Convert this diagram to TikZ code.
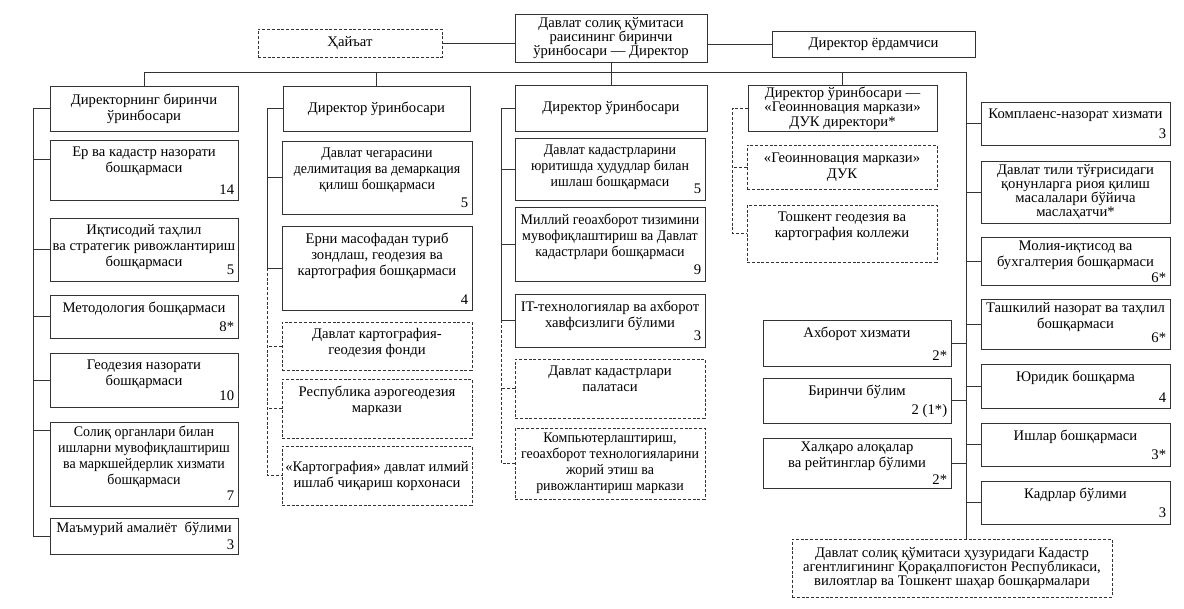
\documentclass[tikz,border=0pt]{standalone}
\usepackage{fontspec}
\setmainfont{Liberation Serif}
\newfontfamily\narrowfont[FakeStretch=0.95]{Liberation Serif}

\begin{document}
\begin{tikzpicture}[x=0.75pt, y=-0.75pt,
  font=\fontsize{11}{12}\selectfont,
  unit/.style 2 args={draw=black!80, line width=0.6pt, minimum width=#1*0.75pt,
                      minimum height=#2*0.75pt, inner sep=0.5pt, align=center},
  dunit/.style 2 args={unit={#1}{#2}, dash pattern=on 2.2pt off 1.4pt},
  tight/.style={font=\fontsize{11}{10.5}\selectfont},
  narrow/.style={font=\fontsize{11}{12}\narrowfont},
  ttl/.style={anchor=north, align=center, inner xsep=2.5pt, inner ysep=5pt},
  num/.style={anchor=south east, inner xsep=3pt, inner ysep=4.5pt},
  link/.style={draw=black!80, line width=0.6pt},
  dlink/.style={link, dash pattern=on 2.2pt off 1.4pt},
]
  \useasboundingbox (0,0) rectangle (1184,609);

  % top level
  \node[dunit={184}{28}] (haiat) at (350,43) {Ҳайъат};
  \node[unit={192}{48}, tight] (top) at (611,38) {Давлат солиқ қўмитаси\\раисининг биринчи\\ўринбосари — Директор};
  \node[unit={203}{26}] (yordam) at (873.5,44) {Директор ёрдамчиси};

  % deputies
  \node[unit={188}{45}] (d1) at (144,108.5) {Директорнинг биринчи\\ўринбосари};
  \node[unit={187}{45}] (d2) at (376.5,108.5) {Директор ўринбосари};
  \node[unit={192}{46}] (d3) at (611,108) {Директор ўринбосари};
  \node[unit={189}{46}, font=\fontsize{11}{11}\selectfont] (d4) at (842.5,108) {Директор ўринбосари —\\«Геоинновация маркази»\\ДУК директори*};

  % first deputy
  \node[unit={188}{60}, label={[ttl]north:{Ер ва кадастр назорати\\бошқармаси}}, label={[num]south east:14}] (c1a) at (144,170) {};
  \node[unit={188}{63}, label={[ttl]north:{Иқтисодий таҳлил\\ва стратегик ривожлантириш\\бошқармаси}}, label={[num]south east:5}] (c1b) at (144,249.5) {};
  \node[unit={188}{43}, label={[ttl]north:{Методология бошқармаси}}, label={[num]south east:8*}] (c1c) at (144,316.5) {};
  \node[unit={188}{54}, label={[ttl]north:{Геодезия назорати\\бошқармаси}}, label={[num]south east:10}] (c1d) at (144,380) {};
  \node[unit={188}{84}, label={[ttl, narrow, inner ysep=3pt]north:{Солиқ органлари билан\\ишларни мувофиқлаштириш\\ва маркшейдерлик хизмати\\бошқармаси}}, label={[num]south east:7}] (c1e) at (144,464) {};
  \node[unit={188}{36}, label={[ttl, inner ysep=3pt]north:{Маъмурий амалиёт\ \ бўлими}}, label={[num, inner ysep=3pt]south east:3}] (c1f) at (144,536) {};

  % second column
  \node[unit={190}{73}, label={[ttl, narrow]north:{Давлат чегарасини\\делимитация ва демаркация\\қилиш бошқармаси}}, label={[num]south east:5}] (c2a) at (377,177.5) {};
  \node[unit={190}{84}, label={[ttl]north:{Ерни масофадан туриб\\зондлаш, геодезия ва\\картография бошқармаси}}, label={[num]south east:4}] (c2b) at (377,268) {};
  \node[dunit={190}{48}, label={[ttl]north:{Давлат картография-\\геодезия фонди}}] (c2c) at (377,346) {};
  \node[dunit={190}{59}, label={[ttl]north:{Республика аэрогеодезия\\маркази}}] (c2d) at (377,408.5) {};
  \node[dunit={190}{59}] (c2e) at (377,475.5) {«Картография» давлат илмий\\ишлаб чиқариш корхонаси};

  % third column
  \node[unit={190}{62}, label={[ttl, narrow]north:{Давлат кадастрларини\\юритишда ҳудудлар билан\\ишлаш бошқармаси}}, label={[num]south east:5}] (c3a) at (610,169) {};
  \node[unit={190}{74}, label={[ttl, narrow]north:{Миллий геоахборот тизимини\\мувофиқлаштириш ва Давлат\\кадастрлари бошқармаси}}, label={[num]south east:9}] (c3b) at (610,244) {};
  \node[unit={190}{53}, label={[ttl]north:{IT-технологиялар ва ахборот\\хавфсизлиги бўлими}}, label={[num]south east:3}] (c3c) at (610,320.5) {};
  \node[dunit={190}{59}, label={[ttl]north:{Давлат кадастрлари\\палатаси}}] (c3d) at (610,388.5) {};
  \node[dunit={190}{71}, narrow] (c3e) at (610,463.5) {Компьютерлаштириш,\\геоахборот технологияларини\\жорий этиш ва\\ривожлантириш маркази};

  % fourth column
  \node[dunit={190}{44}] (c4a) at (842,167) {«Геоинновация маркази»\\ДУК};
  \node[dunit={190}{57}, label={[ttl]north:{Тошкент геодезия ва\\картография коллежи}}] (c4b) at (842,233.5) {};

  % right side
  \node[unit={189}{43}, label={[ttl]north:{Комплаенс-назорат хизмати}}, label={[num]south east:3}] (r1) at (1075.5,123.5) {};
  \node[unit={189}{62}, tight] (r2) at (1075.5,192) {Давлат тили тўғрисидаги\\қонунларга риоя қилиш\\масалалари бўйича\\маслаҳатчи*};
  \node[unit={189}{48}, label={[ttl, inner ysep=3pt]north:{Молия-иқтисод ва\\бухгалтерия бошқармаси}}, label={[num, inner ysep=2pt]south east:6*}] (r3) at (1075.5,261) {};
  \node[unit={189}{50}, label={[ttl, inner ysep=3pt]north:{Ташкилий назорат ва таҳлил\\бошқармаси}}, label={[num]south east:6*}] (r4) at (1075.5,324) {};
  \node[unit={189}{44}, label={[ttl]north:{Юридик бошқарма}}, label={[num]south east:4}] (r5) at (1075.5,386) {};
  \node[unit={189}{43}, label={[ttl]north:{Ишлар бошқармаси}}, label={[num]south east:3*}] (r6) at (1075.5,444.5) {};
  \node[unit={189}{43}, label={[ttl]north:{Кадрлар бўлими}}, label={[num]south east:3}] (r7) at (1075.5,502.5) {};

  \node[unit={188}{46}, label={[ttl]north:{Ахборот хизмати}}, label={[num]south east:2*}] (l1) at (857,343) {};
  \node[unit={188}{45}, label={[ttl]north:{Биринчи бўлим}}, label={[num]south east:2 (1*)}] (l2) at (857,400.5) {};
  \node[unit={188}{50}, label={[ttl, inner ysep=3pt]north:{Халқаро алоқалар\\ва рейтинглар бўлими}}, label={[num, inner ysep=3pt]south east:2*}] (l3) at (857,463) {};

  \node[dunit={320}{58}, tight] (bot) at (952,568) {Давлат солиқ қўмитаси ҳузуридаги Кадастр\\агентлигининг Қорақалпоғистон Республикаси,\\вилоятлар ва Тошкент шаҳар бошқармалари};

  % links at the top
  \draw[link] (haiat.east) -- (haiat.east -| top.west);
  \draw[link] (yordam.west) -- (yordam.west -| top.east);
  \coordinate (rsp) at (966,72);
  \draw[link] (d1.north) |- (rsp) -- (rsp |- bot.north);
  \draw[link] (d2.north) -- (d2.north |- rsp);
  \draw[link] (top.south) -- (d3.north);
  \draw[link] (d4.north) -- (d4.north |- rsp);

  % first column
  \draw[link] (d1.west) -- ++(-16,0) coordinate (s1) |- (c1f.west);
  \draw[link] ([yshift=8pt]c1a.west) -- ++(-16,0);
  \draw[link] (c1b.west) -- (s1 |- c1b.west);
  \draw[link] (c1c.west) -- (s1 |- c1c.west);
  \draw[link] (c1d.west) -- (s1 |- c1d.west);
  \draw[link] ([yshift=25pt]c1e.west) -- ++(-16,0);

  % second column
  \draw[link] (d2.west) -- ++(-15,0) coordinate (s2) |- (c2b.west);
  \draw[link] (c2a.west) -- (s2 |- c2a.west);
  \draw[dlink] (s2 |- c2b.west) |- (c2e.west);
  \draw[dlink] (c2c.west) -- (s2 |- c2c.west);
  \draw[dlink] (c2d.west) -- (s2 |- c2d.west);

  % third column
  \draw[link] (d3.west) -- ++(-13,0) coordinate (s3) |- (c3c.west);
  \draw[link] (c3a.west) -- (s3 |- c3a.west);
  \draw[link] (c3b.west) -- (s3 |- c3b.west);
  \draw[dlink] (s3 |- c3c.west) |- (c3e.west);
  \draw[dlink] (c3d.west) -- (s3 |- c3d.west);

  % fourth column
  \draw[dlink] (d4.west) -- ++(-15,0) coordinate (s4) |- (c4b.west);
  \draw[dlink] (c4a.west) -- (s4 |- c4a.west);

  % right side
  \draw[link] (r1.west) -- (r1.west -| rsp);
  \draw[link] (r2.west) -- (r2.west -| rsp);
  \draw[link] (r3.west) -- (r3.west -| rsp);
  \draw[link] (r4.west) -- (r4.west -| rsp);
  \draw[link] (r5.west) -- (r5.west -| rsp);
  \draw[link] (r6.west) -- (r6.west -| rsp);
  \draw[link] (r7.west) -- (r7.west -| rsp);
  \draw[link] (l1.east) -- (l1.east -| rsp);
  \draw[link] (l2.east) -- (l2.east -| rsp);
  \draw[link] (l3.east) -- (l3.east -| rsp);
\end{tikzpicture}
\end{document}
